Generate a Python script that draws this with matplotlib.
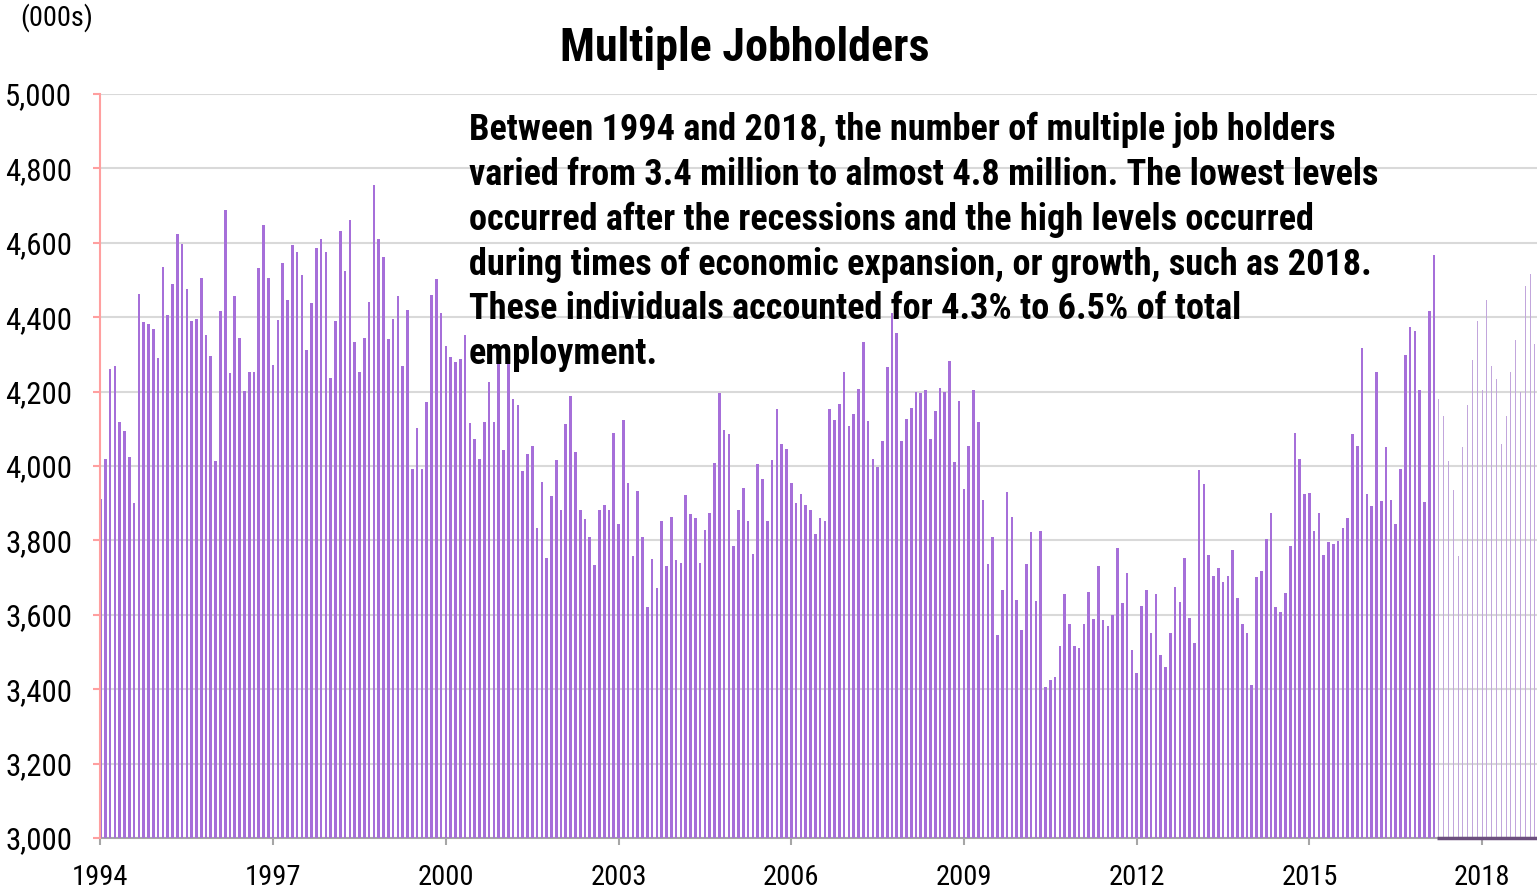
import matplotlib
matplotlib.use("Agg")
import matplotlib.pyplot as plt
from matplotlib import font_manager as fm
import numpy as np

# ---- pick a narrow sans font if one is installed ----
fonts = fm.fontManager.ttflist
names = {f.name for f in fonts}
stretch_val = 'normal'
family = None
for cand in ['Liberation Sans Narrow', 'Arial Narrow', 'Roboto Condensed',
             'Open Sans Condensed', 'Noto Sans Condensed', 'DejaVu Sans Condensed']:
    if cand in names:
        family = cand
        break
if family is None:
    cond = [f for f in fonts if ('Condensed' in f.name or 'Narrow' in f.name)]
    if cond:
        family = cond[0].name
if family is None:
    cond = [f for f in fonts if str(f.stretch) in ('condensed', 'semi-condensed', 'extra-condensed')
            or (isinstance(f.stretch, int) and f.stretch < 500)]
    if cond:
        family = cond[0].name
        stretch_val = 'condensed'
if family is None:
    family = 'Liberation Sans'
plt.rcParams['font.family'] = [family, 'Liberation Sans', 'DejaVu Sans']
plt.rcParams['font.stretch'] = stretch_val

# Monthly multiple jobholders (thousands), Jan 1994 onward
values_main = [
    3910, 4020, 4262, 4269, 4118, 4095, 4024, 3900, 4463, 4387, 4383, 4367, 4289, 4536, 4405, 4490, 4624, 4596, 4476, 4390, 4395, 4505, 4351, 4297, 4014, 4416,
    4688, 4250, 4456, 4345, 4201, 4253, 4253, 4532, 4648, 4505, 4271, 4392, 4547, 4445, 4595, 4574, 4514, 4313, 4439, 4585, 4609, 4575, 4237, 4390, 4633,
    4524, 4660, 4332, 4253, 4345, 4442, 4756, 4609, 4561, 4342, 4396, 4458, 4269, 4420, 3992, 4101, 3992, 4171, 4461, 4504, 4411, 4323, 4293, 4280, 4287,
    4352, 4115, 4072, 4020, 4117, 4225, 4118, 4300, 4042, 4290, 4179, 4165, 3986, 4033, 4054, 3834, 3956, 3752, 3920, 4017, 3883, 4113, 4189, 4038, 3883,
    3857, 3809, 3735, 3883, 3894, 3881, 4090, 3845, 4123, 3954, 3759, 3932, 3810, 3621, 3749, 3673, 3851, 3731, 3863, 3748, 3739, 3922, 3870, 3860, 3740,
    3829, 3875, 4008, 4196, 4096, 4086, 3784, 3883, 3942, 3851, 3764, 4005, 3966, 3852, 4015, 4153, 4059, 4046, 3953, 3901, 3925, 3894, 3882, 3816, 3860,
    3852, 4153, 4124, 4166, 4253, 4107, 4139, 4208, 4332, 4120, 4020, 3997, 4067, 4266, 4410, 4357, 4068, 4127, 4157, 4198, 4197, 4205, 4073, 4149, 4210,
    4199, 4281, 4010, 4176, 3938, 4053, 4204, 4119, 3908, 3736, 3808, 3546, 3668, 3931, 3864, 3641, 3560, 3736, 3822, 3637, 3826, 3407, 3425, 3432, 3516,
    3655, 3575, 3516, 3512, 3575, 3661, 3589, 3731, 3585, 3571, 3600, 3779, 3632, 3713, 3505, 3443, 3625, 3668, 3550, 3657, 3491, 3461, 3552, 3674, 3634,
    3752, 3592, 3525, 3988, 3951, 3761, 3705, 3727, 3689, 3705, 3775, 3645, 3575, 3550, 3410, 3702, 3717, 3805, 3875, 3620, 3607, 3659, 3786, 4089, 4020,
    3924, 3927, 3826, 3873, 3761, 3796, 3790, 3799, 3834, 3860, 4085, 4055, 4316, 3926, 3893, 4254, 3905, 4052, 3909, 3845, 3992, 4299, 4373, 4362, 4205,
    3904, 4416, 4566,
]
values_light = [4181, 4135, 4013, 3935, 3759, 4051, 4165, 4286, 4390, 4205, 4445,
                4270, 4235, 4060, 4135, 4254, 4338, 4198, 4485, 4516, 4328]

tick_years = ['1994', '1997', '2000', '2003', '2006', '2009', '2012', '2015', '2018']
y_ticks = [3000, 3200, 3400, 3600, 3800, 4000, 4200, 4400, 4600, 4800, 5000]

title = "Multiple Jobholders"
note_lines = [
    "Between 1994 and 2018, the number of multiple job holders",
    "varied from 3.4 million to almost 4.8 million. The lowest levels",
    "occurred after the recessions and the high levels occurred",
    "during times of economic expansion, or growth, such as 2018.",
    "These individuals accounted for 4.3% to 6.5% of total",
    "employment.",
]

W, H = 1537, 896
fig = plt.figure(figsize=(W / 100, H / 100), dpi=100)
ax = fig.add_axes([100 / W, (H - 838) / H, (1537 - 100) / W, (838 - 94) / H])

base = 3000
n_main = len(values_main)
x_main = np.arange(n_main)
x_light = np.arange(n_main, n_main + len(values_light))

ax.bar(x_main, np.array(values_main) - base, bottom=base, width=0.55,
       color='#a66fd9', edgecolor='none', zorder=3)
ax.bar(x_light, np.array(values_light) - base, bottom=base, width=0.2,
       color='#c2a6dc', edgecolor='none', zorder=3)

ax.set_xlim(-0.1, n_main + len(values_light) - 0.55)
ax.set_ylim(3000, 5000)

ax.set_yticks(y_ticks)
ax.set_yticklabels([f"{v:,}" for v in y_ticks])
tick_pos = [i * 36 for i in range(len(tick_years))]
ax.set_xticks(tick_pos)
ax.set_xticklabels(tick_years)

ax.grid(axis='y', color='#d9d9d9', linewidth=1.5, zorder=0)
ax.set_axisbelow(True)

for s in ['top', 'right']:
    ax.spines[s].set_visible(False)
ax.spines['left'].set_color('#ff9f9f')
ax.spines['left'].set_linewidth(1.5)
ax.spines['left'].set_zorder(5)
ax.spines['bottom'].set_color('#a6a6a6')
ax.spines['bottom'].set_linewidth(1.5)

ax.tick_params(axis='y', colors='#ff9f9f', length=5, width=1.5, pad=15,
               labelsize=21, labelcolor='black')
ax.tick_params(axis='x', colors='#a6a6a6', length=5, width=1.5, pad=14,
               labelsize=21, labelcolor='black')

# dark baseline under the light-series area
ax.plot([n_main - 0.4, n_main + len(values_light)], [base, base],
        color='#6b4f7d', linewidth=2.5, zorder=6, clip_on=False, solid_capstyle='butt')

t_title = fig.text(745 / W, 1 - 61 / H, title, ha='center', va='baseline',
                   fontsize=30, fontweight='bold')
t_unit = fig.text(20 / W, 1 - 18 / H, "(000s)", ha='left', va='center', fontsize=19)
baselines = [140, 185, 230, 275, 319, 364]
t_notes = [fig.text(469 / W, 1 - b / H, line, ha='left', va='baseline', fontsize=24,
                    fontweight='bold', zorder=10) for line, b in zip(note_lines, baselines)]

# ---- scale font sizes so text widths match the reference ----
fig.canvas.draw()
r = fig.canvas.get_renderer()

def fit(t, target):
    w = t.get_window_extent(r).width
    if w > 0:
        t.set_fontsize(t.get_fontsize() * target / w)

fit(t_title, 370)
fit(t_unit, 73)
fit(t_notes[3], 907)
for t in t_notes:
    t.set_fontsize(t_notes[3].get_fontsize())

ylab = ax.get_yticklabels()[-1]
yw = ylab.get_window_extent(r).width
ys = 21 * 67 / yw if yw > 0 else 21
xlab = ax.get_xticklabels()[0]
xw = xlab.get_window_extent(r).width
xs = 21 * 56 / xw if xw > 0 else 21
ax.tick_params(axis='y', labelsize=ys)
ax.tick_params(axis='x', labelsize=xs)

fig.savefig('out.png', dpi=100)
